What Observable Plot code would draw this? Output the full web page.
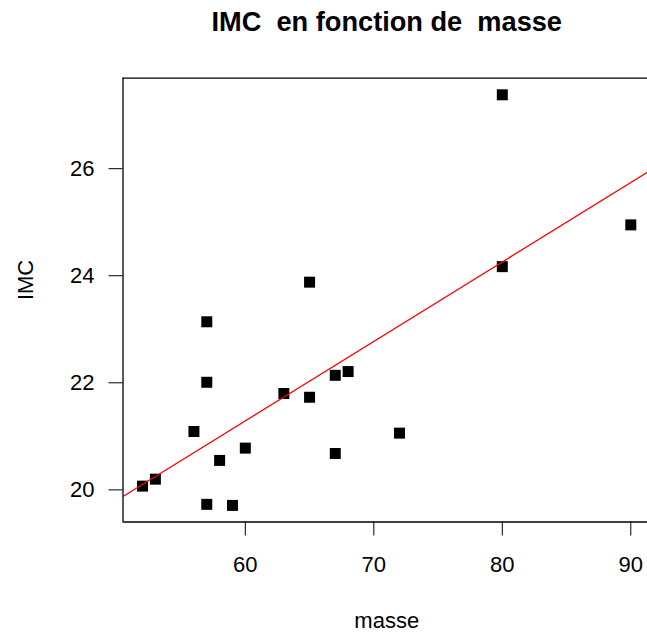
<!DOCTYPE html>
<html>
<head>
<meta charset="utf-8">
<script src="https://cdn.jsdelivr.net/npm/d3@7"></script>
<script src="https://cdn.jsdelivr.net/npm/@observablehq/plot@0.6"></script>
<style>
  html, body { margin: 0; padding: 0; background: #fff; }
  svg text { white-space: pre; }
</style>
</head>
<body>
<div id="chart"></div>
<script>
const masse = [52, 53, 57, 57, 56, 58, 60, 57, 59, 63, 65, 65, 67, 68, 67, 72, 80, 80, 90];
const imc = [20.07, 20.20, 23.14, 22.01, 21.09, 20.55, 20.78, 19.73, 19.71, 21.80, 21.73, 23.88, 22.14, 22.21, 20.68, 21.06, 27.38, 24.17, 24.95];
const xTicks = [60, 70, 80, 90];
const yTicks = [20, 22, 24, 26];
const titleText = "IMC  en fonction de  masse";
const xLabel = "masse";
const yLabel = "IMC";

const points = masse.map((m, i) => ({masse: m, imc: imc[i]}));

// least-squares fit (as lm(IMC ~ masse))
const mx = d3.mean(masse), my = d3.mean(imc);
const sxy = d3.sum(masse, (m, i) => (m - mx) * (imc[i] - my));
const sxx = d3.sum(masse, m => (m - mx) ** 2);
const slope = sxy / sxx;
const intercept = my - slope * mx;

const xDomain = [50.48, 91.30];
const yDomain = [19.40, 27.69];
const fitLine = xDomain.map(x => ({masse: x, imc: intercept + slope * x}));

const font = "Liberation Sans, Arial, Helvetica, sans-serif";

const chart = Plot.plot({
  width: 647,
  height: 632,
  marginLeft: 122.5,
  marginRight: 0,
  marginTop: 77.7,
  marginBottom: 110.5,
  style: {fontFamily: font, fontSize: "22px", color: "#000", background: "#fff", overflow: "visible"},
  x: {domain: xDomain},
  y: {domain: yDomain},
  marks: [
    Plot.axisX({ticks: xTicks, tickSize: 14, tickPadding: 20, label: null, fontSize: 22, stroke: "#000"}),
    Plot.axisY({ticks: yTicks, tickSize: 14, tickPadding: 14.5, label: null, fontSize: 22, stroke: "#000"}),
    Plot.ruleX([xDomain[0]], {stroke: "#000", strokeWidth: 1.3}),
    Plot.ruleY([yDomain[0], yDomain[1]], {stroke: "#000", strokeWidth: 1.3}),
    Plot.dot(points, {x: "masse", y: "imc", symbol: "square", r: 6.2, fill: "#000", stroke: "none"}),
    Plot.line(fitLine, {x: "masse", y: "imc", stroke: "red", strokeWidth: 1.3, clip: true}),
    Plot.text([titleText], {frameAnchor: "top", lineAnchor: "bottom", dy: -47.5, dx: 1.5, fontSize: 27.2, fontWeight: "bold", fill: "#000"}),
    Plot.text([xLabel], {frameAnchor: "bottom", lineAnchor: "bottom", dy: 105.5, dx: 1.5, fontSize: 22, fill: "#000"}),
    Plot.text([yLabel], {frameAnchor: "left", lineAnchor: "bottom", rotate: -90, dx: -90.5, fontSize: 22, fill: "#000"})
  ]
});
document.getElementById("chart").appendChild(chart);
</script>
</body>
</html>
